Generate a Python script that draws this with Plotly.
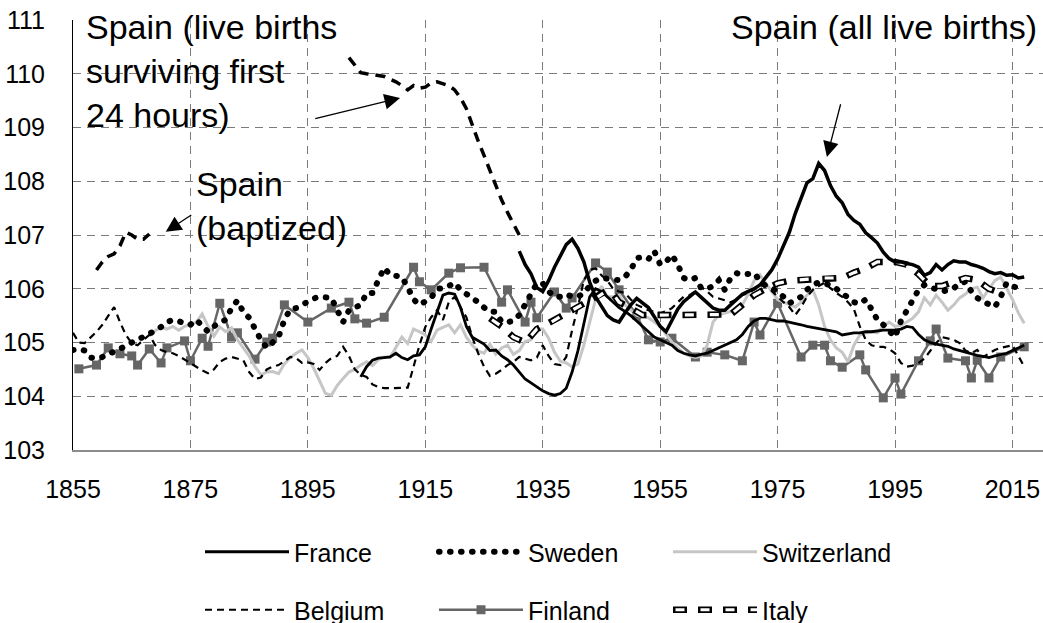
import plotly.graph_objects as go

# ---------------- data ----------------
spain_bapt_years = [1859, 1860, 1861, 1862, 1863, 1864, 1865, 1866, 1867, 1868]
spain_bapt_values = [106.35, 106.5, 106.6, 106.65, 106.8, 107.05, 107.0, 106.92, 106.92, 107.02]

spain_surv_start = 1902
spain_surv_values = [110.3, 110.15, 110.02, 110.0, 109.98, 109.97, 109.95, 109.9, 109.85, 109.78,
                     109.7, 109.78, 109.73, 109.75, 109.83, 109.85, 109.82, 109.78, 109.7, 109.55,
                     109.35, 109.03, 108.75, 108.48, 108.2, 107.9, 107.65, 107.42, 107.2, 107.0]

spain_all_start = 1931
spain_all_values = [106.7, 106.45, 106.28, 106.02, 105.95, 106.15, 106.4, 106.62, 106.82,
                    106.92, 106.75, 106.5, 106.12, 105.85, 105.66, 105.5, 105.42, 105.38, 105.55,
                    105.7, 105.82, 105.74, 105.65, 105.48, 105.3, 105.2, 105.42, 105.62, 105.76,
                    105.86, 105.94, 105.84, 105.74, 105.64, 105.6, 105.6, 105.7, 105.8, 105.9,
                    105.95, 106.0, 106.07, 106.2, 106.35, 106.55, 106.8, 107.05, 107.4, 107.7,
                    107.97, 108.05, 108.33, 108.2, 107.92, 107.72, 107.6, 107.38, 107.27, 107.2,
                    107.04, 106.95, 106.85, 106.68, 106.56, 106.5, 106.5, 106.47, 106.45, 106.4,
                    106.25, 106.3, 106.45, 106.35, 106.45, 106.52, 106.5, 106.5, 106.45, 106.42,
                    106.38, 106.32, 106.28, 106.3, 106.25, 106.26, 106.2, 106.22]

france_start = 1904
france_values = [104.36, 104.55, 104.67, 104.71, 104.72, 104.73,
                 104.8, 104.72, 104.68, 104.75, 104.77, 104.92, 105.25, 105.57, 105.88, 105.92,
                 105.9, 105.65, 105.3, 105.1, 105.03, 104.97, 104.85, 104.86, 104.75, 104.68,
                 104.58, 104.45, 104.32, 104.25, 104.17, 104.1, 104.05, 104.02, 104.05, 104.15,
                 104.45, 104.85, 105.35, 105.85, 106.0, 105.95, 105.85, 105.75, 105.65, 105.58,
                 105.5, 105.4, 105.3, 105.2, 105.1, 105.05, 105.0, 104.95, 104.85, 104.8,
                 104.77, 104.75, 104.78, 104.8, 104.85, 104.9, 104.95, 105.0, 105.05, 105.15,
                 105.3, 105.4, 105.45, 105.45, 105.42, 105.4, 105.4, 105.38, 105.35, 105.33,
                 105.3, 105.28, 105.27, 105.25, 105.22, 105.2, 105.14, 105.16, 105.18, 105.18,
                 105.2, 105.2, 105.22, 105.23, 105.23, 105.23, 105.25, 105.3, 105.28, 105.15,
                 105.05, 105.0, 104.97, 104.95, 104.93, 104.88, 104.85, 104.82, 104.78, 104.76,
                 104.74, 104.72, 104.75, 104.78, 104.8, 104.85, 104.9, 104.95]

sweden_start = 1855
sweden_values = [104.86, 104.88, 104.85, 104.72, 104.7, 104.73, 104.8, 104.82, 104.88, 104.95,
                 105.0, 105.05, 105.1, 105.18, 105.22, 105.29, 105.38, 105.42, 105.4, 105.35,
                 105.33, 105.42, 105.3, 105.2, 105.3, 105.38, 105.42, 105.64, 105.78, 105.57,
                 105.46, 105.23, 105.05, 104.9, 104.99, 105.1, 105.42, 105.62, 105.64, 105.7,
                 105.79, 105.82, 105.85, 105.83, 105.83, 105.6, 105.38, 105.6, 105.65, 105.7,
                 105.92, 105.92, 106.16, 106.39, 106.26, 106.24, 106.22, 106.03, 105.8, 105.7,
                 105.75, 105.83, 106.0, 106.01, 106.05, 106.11, 105.98, 105.9, 105.85, 105.75,
                 105.65, 105.57, 105.57, 105.38, 105.38, 105.4, 105.51, 105.7, 105.9, 106.1,
                 106.1, 105.95, 105.85, 105.85, 105.9, 105.85, 105.85, 105.92, 106.05, 106.15,
                 106.2, 106.18, 106.16, 106.16, 106.22, 106.35, 106.57, 106.59, 106.55, 106.7,
                 106.45, 106.5, 106.63, 106.45, 106.2, 106.16, 106.2, 106.01, 106.0, 106.05,
                 106.16, 105.98, 106.2, 106.29, 106.26, 106.28, 106.29, 106.15, 106.05, 106.01,
                 105.95, 105.85, 105.73, 105.79, 105.85, 105.98, 106.07, 106.12, 106.1, 106.07,
                 106.0, 105.92, 105.83, 105.75, 105.72, 105.8, 105.62, 105.42, 105.33, 105.23,
                 105.1, 105.4, 105.6, 105.8, 105.98, 106.07, 106.02, 105.98, 105.95, 105.97,
                 106.01, 106.1, 106.13, 105.95, 105.83, 105.76, 105.7, 105.66, 105.85, 106.11,
                 106.05, 106.01]

switzerland_start = 1868
switzerland_values = [105.12, 105.22, 105.28, 105.25, 105.3, 105.23, 105.3, 105.33, 105.38, 105.53,
                      105.3, 105.12, 105.29, 105.2, 105.27, 105.05, 104.9, 104.75, 104.55, 104.4,
                      104.45, 104.46, 104.42, 104.6, 104.72, 104.8, 104.86, 104.72, 104.52, 104.3,
                      104.05, 104.02, 104.2, 104.33, 104.45, 104.5, 104.58, 104.64, 104.57, 104.68,
                      104.73, 104.72, 104.9, 105.1, 104.98, 105.25, 105.2, 105.14, 105.02, 105.23,
                      105.28, 105.33, 105.18, 105.33, 105.1, 104.95, 104.84, 104.8, 104.97, 104.78,
                      104.9, 104.95, 104.78, 104.85, 105.02, 105.05, 105.25, 105.25, 105.08, 104.82,
                      104.65, 104.62, 104.55, 104.6, 104.95, 105.35, 105.8, 106.05, 105.85, 105.85,
                      105.88, 105.7, 105.6, 105.51, 105.48, 105.46, 105.38, 105.3, 105.15, 105.01,
                      104.9, 104.8, 104.75, 104.72, 104.75, 104.95, 105.38, 105.51, 105.55, 105.58,
                      105.6, 105.7, 105.9, 106.15, 106.26, 106.1, 105.95, 105.8, 105.75, 105.7,
                      105.66, 105.75, 105.88, 105.98, 105.7, 105.3, 105.05, 104.9, 104.82, 104.64,
                      104.95, 105.14, 105.18, 105.2, 105.18, 105.3, 105.38, 105.3, 105.32, 105.38,
                      105.45, 105.57, 105.83, 105.7, 105.88, 105.75, 105.6, 105.7, 105.83, 105.9,
                      106.0, 106.03, 105.83, 106.0, 106.15, 106.22, 106.01, 105.8, 105.55, 105.36]

belgium_start = 1855
belgium_values = [105.18, 105.0, 104.99, 105.1, 105.2, 105.33, 105.5, 105.66, 105.38, 105.14,
                  104.99, 104.95, 105.05, 105.14, 104.95, 104.86, 104.82, 104.8, 104.75, 104.68,
                  104.62, 104.55, 104.48, 104.43, 104.5, 104.64, 104.7, 104.73, 104.7, 104.67,
                  104.45, 104.32, 104.35, 104.5, 104.55, 104.58, 104.65, 104.73, 104.71, 104.62,
                  104.63, 104.6, 104.49, 104.62, 104.71, 104.75, 104.92, 104.75, 104.5, 104.4,
                  104.36, 104.22, 104.17, 104.15, 104.15, 104.15, 104.15, 104.16, 104.55, 104.95,
                  105.29, 105.47, 105.6, 105.42, 105.75, 105.85, 105.65, 105.47, 105.1, 104.8,
                  104.55, 104.38, 104.42, 104.49, 104.58, 104.64, 104.73, 104.7, 104.67, 104.72,
                  104.95, 104.75, 104.6, 104.58, 104.73, 105.23, 105.66, 106.16, 106.35, 106.38,
                  106.25, 106.15, 106.0, 105.95, 105.92, 105.8, 105.7, 105.65, 105.6, 105.57,
                  105.55, 105.58, 105.64, 105.75, 105.85, 105.88, 105.95, 106.03, 105.95, 105.85,
                  105.82, 105.78, 105.75, 105.8, 105.88, 105.92, 105.98, 106.05, 106.07, 105.95,
                  105.85, 105.75, 105.66, 105.51, 105.66, 105.85, 105.98, 106.05, 106.11, 106.01,
                  105.92, 105.85, 105.75, 105.62, 105.3, 105.05, 104.95, 104.92, 104.92, 104.88,
                  104.8, 104.62, 104.55, 104.57, 104.62, 104.7, 104.85, 104.99, 105.1, 105.07,
                  105.05, 104.99, 104.85, 104.8, 104.86, 104.73, 104.8, 104.86, 104.9, 104.92,
                  104.95, 104.75, 104.55]

finland_years = [1856, 1859, 1861, 1863, 1865, 1866, 1868, 1870, 1871, 1874, 1875, 1877, 1878,
                 1880, 1882, 1883, 1886, 1888, 1889, 1891, 1895, 1899, 1902, 1903, 1905, 1908,
                 1913, 1914, 1916, 1919, 1921, 1925, 1928, 1929, 1932, 1933, 1934, 1937, 1939,
                 1940, 1944, 1946, 1948, 1951, 1953, 1955, 1957, 1961, 1963, 1966, 1969, 1971,
                 1972, 1975, 1979, 1981, 1983, 1984, 1986, 1989, 1990, 1993, 1995, 1996, 1999,
                 2001, 2002, 2004, 2007, 2008, 2009, 2011, 2013, 2017]
finland_values = [104.51, 104.58, 104.9, 104.79, 104.75, 104.58, 104.88, 104.62, 104.9, 105.03,
                  104.66, 105.08, 104.93, 105.73, 105.1, 105.18, 104.69, 105.01, 105.08, 105.7,
                  105.38, 105.64, 105.75, 105.44, 105.36, 105.47, 106.4, 106.13, 105.98, 106.29,
                  106.39, 106.4, 105.75, 105.98, 105.38, 105.75, 105.46, 105.94, 105.64, 105.83,
                  106.48, 106.31, 105.98, 105.51, 105.05, 105.01, 105.08, 104.73, 104.82, 104.77,
                  104.66, 105.38, 105.14, 105.73, 104.73, 104.95, 104.95, 104.66, 104.54, 104.77,
                  104.49, 103.97, 104.34, 104.04, 104.66, 105.03, 105.25, 104.71, 104.66, 104.34,
                  104.67, 104.34, 104.73, 104.92]

italy_years = [1926, 1928, 1930, 1932, 1934, 1936, 1938, 1940, 1942, 1944, 1946, 1947, 1948, 1950,
               1952, 1955, 1960, 1965, 1967, 1969, 1971, 1973, 1975, 1977, 1980, 1983, 1986, 1988,
               1990, 1992, 1995, 1997, 1999, 2001, 2003, 2005, 2007, 2009, 2011, 2013]
italy_values = [105.45, 105.3, 105.1, 105.0, 105.25, 105.35, 105.48, 105.6, 105.72, 105.82,
                105.97, 105.9, 105.75, 105.64, 105.51, 105.51, 105.51, 105.51, 105.52, 105.7,
                105.88, 106.0, 106.1, 106.15, 106.17, 106.2, 106.2, 106.3, 106.38, 106.5,
                106.5, 106.45, 106.27, 106.05, 106.05, 106.13, 106.2, 106.16, 106.0, 105.92]

x_ticks = [1855, 1875, 1895, 1915, 1935, 1955, 1975, 1995, 2015]
y_ticks = [103, 104, 105, 106, 107, 108, 109, 110, 111]


def yrs(start, vals):
    return list(range(start, start + len(vals)))


FONT = "Liberation Sans, Arial, Helvetica, sans-serif"

# ---------------- layout geometry ----------------
W, H = 1043, 623
ML, MR, MT, MB = 73, 0, 20, 173
PW = W - ML - MR
PH = H - MT - MB

fig = go.Figure()

# Finland (grey line with squares)
fig.add_trace(go.Scatter(x=finland_years, y=finland_values, name="Finland", mode="lines+markers",
                         line=dict(color="#666666", width=2.5),
                         marker=dict(symbol="square", size=9, color="#666666"),
                         legend="legend2", legendrank=5))
# Switzerland
fig.add_trace(go.Scatter(x=yrs(switzerland_start, switzerland_values), y=switzerland_values,
                         name="Switzerland", mode="lines",
                         line=dict(color="#c6c6c6", width=3), legend="legend", legendrank=3))
# Belgium
fig.add_trace(go.Scatter(x=yrs(belgium_start, belgium_values), y=belgium_values, name="Belgium",
                         mode="lines", line=dict(color="black", width=2.2, dash="7px,5px"),
                         legend="legend2", legendrank=4))
# Sweden (round dots: tiny dashes drawn with round caps, see post_script)
fig.add_trace(go.Scatter(x=yrs(sweden_start, sweden_values), y=sweden_values, name="Sweden",
                         mode="lines", line=dict(color="black", width=6, dash="0.6px,10.4px"),
                         legend="legend", legendrank=2))
# France
fig.add_trace(go.Scatter(x=yrs(france_start, france_values), y=france_values, name="France",
                         mode="lines", line=dict(color="black", width=2.8),
                         legend="legend", legendrank=1))
# Italy (hollow dashes: black dash + white inner dash)
fig.add_trace(go.Scatter(x=italy_years, y=italy_values, name="Italy", mode="lines",
                         line=dict(color="black", width=6.5, dash="14px,11px"),
                         legend="legend2", legendrank=6))
# legend-only placeholders so that the white Italy overlay lines up in legend3
fig.add_trace(go.Scatter(x=[None], y=[None], name="Belgium", mode="lines",
                         line=dict(color="rgba(0,0,0,0)", width=1), legend="legend3",
                         legendrank=4, hoverinfo="skip"))
fig.add_trace(go.Scatter(x=[None], y=[None], name="Finland", mode="lines",
                         line=dict(color="rgba(0,0,0,0)", width=1), legend="legend3",
                         legendrank=5, hoverinfo="skip"))
fig.add_trace(go.Scatter(x=italy_years, y=italy_values, name="Italy", mode="lines",
                         line=dict(color="white", width=3.2, dash="0px,2.5px,9px,13.5px"),
                         legend="legend3", legendrank=6))
# Spain series
fig.add_trace(go.Scatter(x=spain_bapt_years, y=spain_bapt_values, mode="lines", showlegend=False,
                         line=dict(color="black", width=3.5, dash="10px,7px")))
fig.add_trace(go.Scatter(x=yrs(spain_surv_start, spain_surv_values), y=spain_surv_values,
                         mode="lines", showlegend=False,
                         line=dict(color="black", width=3.5, dash="10px,7px")))
fig.add_trace(go.Scatter(x=yrs(spain_all_start, spain_all_values), y=spain_all_values,
                         mode="lines", showlegend=False, line=dict(color="black", width=3.5)))


def px_to_paper_x(px):
    return (px - ML) / PW


def px_to_paper_y(py):
    return (H - MB - py) / PH


leg_common = dict(orientation="h", xanchor="left", yanchor="middle", itemwidth=84,
                  entrywidth=135, entrywidthmode="pixels", xref="container", yref="container",
                  bgcolor="rgba(0,0,0,0)", borderwidth=0, traceorder="normal")
LEG_FONT = dict(family=FONT, size=25, color="black")
LX = 200 / W

fig.update_layout(
    width=W, height=H,
    margin=dict(l=ML, r=MR, t=MT, b=MB, pad=0, autoexpand=False),
    paper_bgcolor="white", plot_bgcolor="white",
    font=dict(family=FONT, size=25, color="black"),
    legend=dict(**leg_common, x=LX, y=1 - 552 / H, font=LEG_FONT),
    legend2=dict(**leg_common, x=LX, y=1 - 610 / H, font=LEG_FONT),
    legend3=dict(**leg_common, x=LX, y=1 - 610 / H,
                 font=dict(family=FONT, size=25, color="rgba(0,0,0,0)")),
    xaxis=dict(range=[1855, 2020.2], tickmode="array", tickvals=x_ticks,
               ticktext=[str(v) for v in x_ticks], automargin=False,
               showgrid=True, gridcolor="#7a7a7a", gridwidth=1, griddash="8px,6px",
               showline=True, linecolor="#8c8c8c", linewidth=1.5,
               ticks="outside", ticklen=16, tickcolor="rgba(0,0,0,0)",
               tickfont=dict(family=FONT, size=25, color="black"), zeroline=False),
    yaxis=dict(range=[103, 111], tickmode="array", tickvals=y_ticks,
               ticktext=[str(v) for v in y_ticks], automargin=False,
               showgrid=True, gridcolor="#7a7a7a", gridwidth=1, griddash="8px,6px",
               showline=True, linecolor="black", linewidth=1,
               ticks="outside", ticklen=22, tickcolor="rgba(0,0,0,0)",
               tickfont=dict(family=FONT, size=25, color="black"), zeroline=False),
)

ann_font = dict(family=FONT, size=34, color="black")
# Text labels
fig.add_annotation(xref="paper", yref="paper", x=px_to_paper_x(84), y=px_to_paper_y(6),
                   xanchor="left", yanchor="top", align="left", showarrow=False,
                   text="Spain (live births<br>surviving first<br>24 hours)", font=ann_font)
fig.add_annotation(xref="paper", yref="paper", x=px_to_paper_x(194), y=px_to_paper_y(163),
                   xanchor="left", yanchor="top", align="left", showarrow=False,
                   text="Spain<br>(baptized)", font=ann_font)
fig.add_annotation(xref="paper", yref="paper", x=px_to_paper_x(1039), y=px_to_paper_y(6),
                   xanchor="right", yanchor="top", align="right", showarrow=False,
                   text="Spain (all live births)", font=ann_font)

# Arrows (tail -> head, in data coordinates)
arrows = [((1896.0, 109.16), (1910.7, 109.55)),
          ((1875.4, 107.39), (1870.8, 107.06)),
          ((1985.8, 109.46), (1983.4, 108.45))]
for (tx, ty), (hx, hy) in arrows:
    fig.add_annotation(x=hx, y=hy, ax=tx, ay=ty, xref="x", yref="y", axref="x", ayref="y",
                       text="", showarrow=True, arrowhead=2, arrowsize=2.4, arrowwidth=1.3,
                       arrowcolor="black", standoff=0, startstandoff=0)

# page without the default 8px body margin; round caps for the dotted (Sweden) style
post = """
document.body.style.margin = '0';
document.body.style.overflow = 'hidden';
document.querySelectorAll('path').forEach(function(p){
  var d = p.style.strokeDasharray || '';
  if (d.indexOf('0.6px') === 0) { p.style.strokeLinecap = 'round'; }
});
"""
fig.write_html("out.html", post_script=post, config={"displayModeBar": False})
